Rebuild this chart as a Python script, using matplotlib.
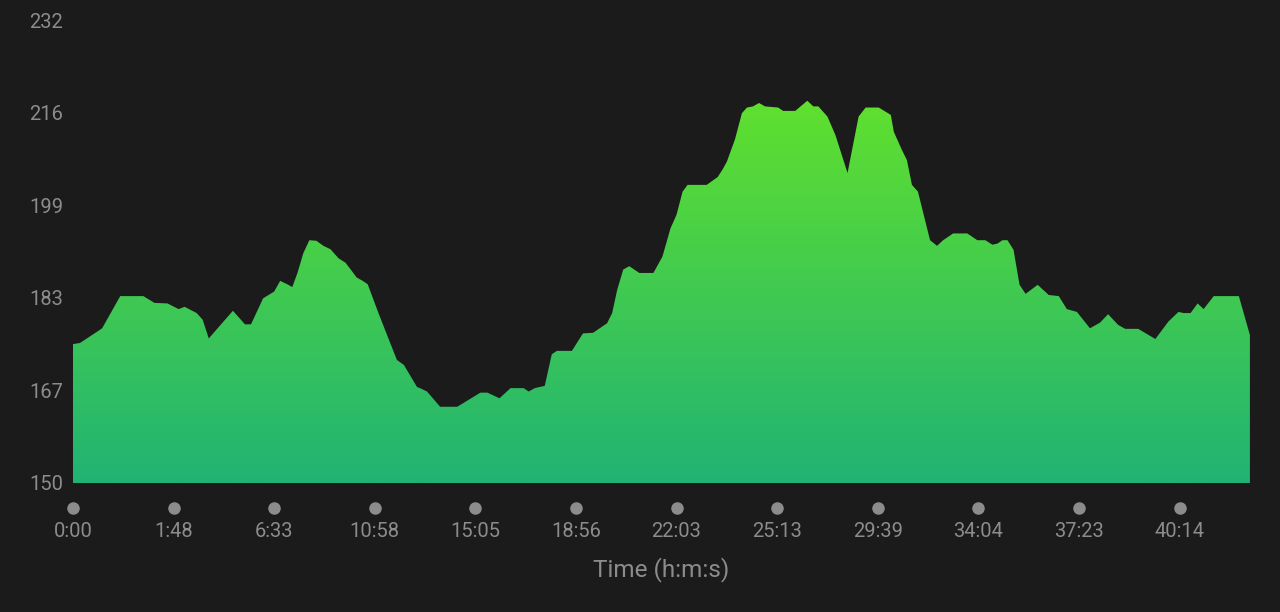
import numpy as np
import matplotlib
matplotlib.use('Agg')
import matplotlib.pyplot as plt
from matplotlib.colors import LinearSegmentedColormap
from matplotlib.transforms import blended_transform_factory

plt.rcParams['font.family'] = ['Roboto', 'DejaVu Sans']

# position along the run, in units of x tick slots
pos = [0.00, 0.07, 0.24, 0.29, 0.47, 0.70, 0.81, 0.94, 1.05, 1.11, 1.23, 1.29,
       1.35, 1.59, 1.71, 1.77, 1.89, 2.00, 2.06, 2.13, 2.18, 2.23, 2.29, 2.35,
       2.42, 2.49, 2.56, 2.64, 2.71, 2.77, 2.82, 2.88, 2.93, 3.02, 3.05, 3.22,
       3.29, 3.42, 3.45, 3.52, 3.65, 3.82, 4.05, 4.12, 4.24, 4.35, 4.48, 4.53,
       4.59, 4.69, 4.76, 4.81, 4.96, 5.07, 5.17, 5.31, 5.36, 5.41, 5.47, 5.53,
       5.63, 5.77, 5.86, 5.94, 6.00, 6.06, 6.11, 6.30, 6.41, 6.46, 6.50, 6.58,
       6.65, 6.70, 6.76, 6.82, 6.88, 7.01, 7.06, 7.18, 7.30, 7.36, 7.41, 7.50,
       7.58, 7.70, 7.81, 7.88, 8.01, 8.13, 8.16, 8.24, 8.29, 8.34, 8.40, 8.52,
       8.59, 8.65, 8.75, 8.89, 8.99, 9.07, 9.14, 9.19, 9.24, 9.29, 9.35, 9.41,
       9.47, 9.59, 9.70, 9.80, 9.88, 9.98, 10.11, 10.21, 10.29, 10.39, 10.46,
       10.59, 10.76, 10.89, 10.99, 11.04, 11.11, 11.18, 11.24, 11.34, 11.59, 11.70]

# heart rate (bpm)
hr = [174.6, 174.8, 176.8, 177.4, 183.1, 183.1, 181.9, 181.8, 180.8, 181.2, 180.1, 178.9,
      175.6, 180.5, 178.1, 178.1, 182.7, 183.9, 185.8, 185.2, 184.7, 187.1, 190.7, 193.0,
      192.9, 192.0, 191.4, 189.8, 189.0, 187.6, 186.4, 185.8, 185.2, 180.9, 179.5, 171.8,
      170.9, 167.0, 166.8, 166.2, 163.5, 163.5, 166.0, 166.0, 165.0, 166.8, 166.8, 166.2,
      166.8, 167.2, 172.8, 173.4, 173.4, 176.5, 176.6, 178.3, 180.1, 184.2, 187.8, 188.4,
      187.2, 187.2, 190.1, 195.1, 197.5, 201.6, 202.8, 202.8, 204.2, 205.6, 206.9, 210.8,
      215.5, 216.5, 216.7, 217.3, 216.7, 216.5, 215.9, 215.9, 217.7, 216.7, 216.7, 214.9,
      211.6, 204.9, 214.9, 216.5, 216.5, 215.2, 212.2, 209.0, 207.2, 202.8, 201.6, 193.0,
      192.0, 193.0, 194.2, 194.2, 193.0, 193.0, 192.2, 192.4, 193.0, 193.0, 191.3, 185.1,
      183.5, 185.1, 183.3, 183.1, 180.8, 180.3, 177.4, 178.4, 179.9, 178.0, 177.3,
      177.3, 175.5, 178.6, 180.3, 180.1, 180.1, 181.8, 180.8, 183.1, 183.1, 176.2]

time_labels = ['0:00', '1:48', '6:33', '10:58', '15:05', '18:56',
               '22:03', '25:13', '29:39', '34:04', '37:23', '40:14']
y_labels = ['150', '167', '183', '199', '216', '232']

BG = '#1b1b1b'
GREY = '#8c8c8c'

fig = plt.figure(figsize=(12.8, 6.12), dpi=100, facecolor=BG)
ax = fig.add_axes([0.0570, 0.2108, 0.9195, 0.7565])
ax.set_facecolor(BG)

ymin, ymax = 150, 232

# gradient fill clipped to the area under the curve
poly = ax.fill_between(pos, hr, ymin, color='none', lw=0)
cmap = LinearSegmentedColormap.from_list('hr', ['#21b374', '#60e02e'])
grad = np.linspace(0, 1, 256).reshape(-1, 1)
img = ax.imshow(grad, cmap=cmap, origin='lower', aspect='auto',
                extent=[0, pos[-1], ymin, max(hr)], zorder=1)
img.set_clip_path(poly.get_paths()[0], transform=ax.transData)
ax.set_xlim(0, pos[-1])
ax.set_ylim(ymin, ymax)

for s in ax.spines.values():
    s.set_visible(False)

ax.set_yticks(np.linspace(ymin, ymax, len(y_labels)))
ax.set_yticklabels(y_labels)
ax.set_xticks(range(len(time_labels)))
ax.set_xticklabels(time_labels)
ax.tick_params(axis='both', length=0, colors=GREY, labelsize=14.5)
ax.tick_params(axis='y', pad=7)
ax.tick_params(axis='x', pad=28)

# dot markers under each time label
trans = blended_transform_factory(ax.transData, ax.transAxes)
ax.plot(range(len(time_labels)), [-0.054] * len(time_labels), 'o', ms=8,
        color=GREY, transform=trans, clip_on=False)

ax.set_xlabel('Time (h:m:s)', color=GREY, fontsize=17.5, labelpad=12)

plt.savefig('out.png', dpi=100, facecolor=BG)
